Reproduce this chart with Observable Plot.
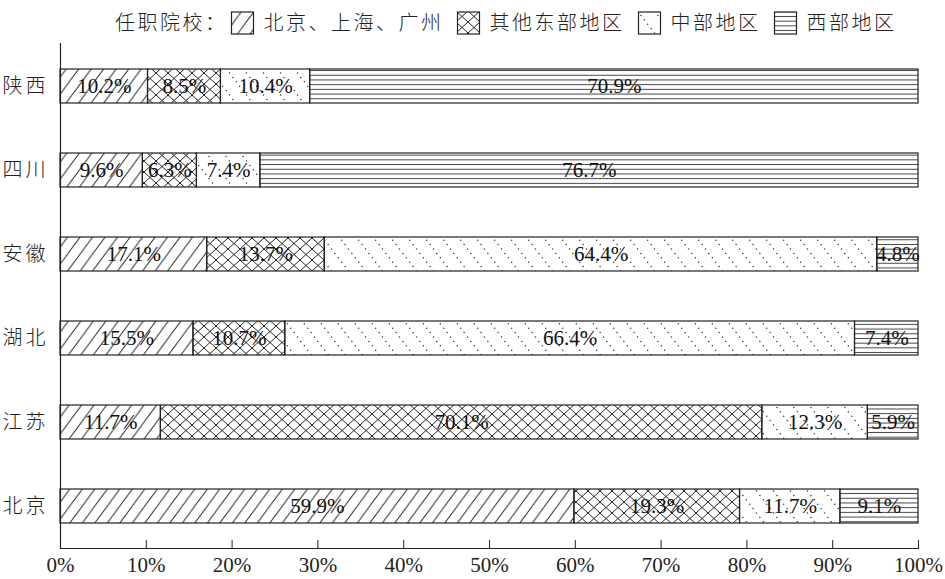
<!DOCTYPE html>
<html>
<head>
<meta charset="utf-8">
<script src="https://cdn.jsdelivr.net/npm/d3@7"></script>
<script src="https://cdn.jsdelivr.net/npm/@observablehq/plot@0.6"></script>
<style>
  body { margin: 0; background: #fff; }
  #legend { display: block; }
  #chart svg { display: block; }
</style>
</head>
<body>
<!-- Fill patterns shared by the bars and the legend swatches -->
<svg width="0" height="0" style="position:absolute">
  <defs>
    <pattern id="pat-hatch" patternUnits="userSpaceOnUse" width="12.5" height="17">
      <path d="M-3.125,4.25L3.125,-4.25M0,17L12.5,0M9.375,21.25L15.625,12.75" stroke="#222" stroke-width="1" fill="none"/>
    </pattern>
    <pattern id="pat-cross" patternUnits="userSpaceOnUse" width="12" height="11">
      <path d="M-1,-0.917L13,11.917M13,-0.917L-1,11.917" stroke="#222" stroke-width="1" fill="none"/>
    </pattern>
    <pattern id="pat-dots" patternUnits="userSpaceOnUse" width="17" height="22">
      <circle cx="1.7" cy="2.2" r="0.75" fill="#333"/>
      <circle cx="5.1" cy="6.6" r="0.75" fill="#333"/>
      <circle cx="8.5" cy="11" r="0.75" fill="#333"/>
      <circle cx="11.9" cy="15.4" r="0.75" fill="#333"/>
      <circle cx="15.3" cy="19.8" r="0.75" fill="#333"/>
    </pattern>
    <pattern id="pat-lines" patternUnits="userSpaceOnUse" width="10" height="4.7">
      <path d="M0,2.35H10" stroke="#444" stroke-width="1" fill="none"/>
    </pattern>
  </defs>
</svg>
<svg id="legend" width="945" height="40"></svg>
<div id="chart"></div>
<script>
// Provinces (bar rows, top to bottom)
const regions = ["陕西", "四川", "安徽", "湖北", "江苏", "北京"];
// Where graduates work (stack segments, left to right)
const series = ["北京、上海、广州", "其他东部地区", "中部地区", "西部地区"];
// Share (%) of each province's graduates in each destination, in the order of `regions`
const sharesBigCities = [10.2, 9.6, 17.1, 15.5, 11.7, 59.9];
const sharesOtherEast = [8.5, 6.3, 13.7, 10.7, 70.1, 19.3];
const sharesCentral   = [10.4, 7.4, 64.4, 66.4, 12.3, 11.7];
const sharesWest      = [70.9, 76.7, 4.8, 7.4, 5.9, 9.1];
// Axis ticks (%)
const xTicks = [0, 10, 20, 30, 40, 50, 60, 70, 80, 90, 100];
const legendTitle = "任职院校：";

const seriesValues = [sharesBigCities, sharesOtherEast, sharesCentral, sharesWest];
const patterns = ["url(#pat-hatch)", "url(#pat-cross)", "url(#pat-dots)", "url(#pat-lines)"];

const rows = series.flatMap((s, i) =>
  regions.map((r, j) => ({region: r, series: s, value: seriesValues[i][j]}))
);

const cjk = '"Noto Sans CJK SC", sans-serif';
const serif = '"Liberation Serif", "Times New Roman", serif';

// Legend row
const legend = d3.select("#legend");
let lx = 115;
const ly = 23;
const title = legend.append("text")
  .attr("x", lx).attr("y", ly).attr("dy", "0.35em")
  .style("font-family", cjk).style("font-size", "20px").style("font-weight", 300)
  .style("letter-spacing", "2.5px").attr("fill", "#222")
  .text(legendTitle);
lx += title.node().getComputedTextLength() + 4;
series.forEach((s, i) => {
  legend.append("rect")
    .attr("x", lx).attr("y", ly - 11).attr("width", 22).attr("height", 22)
    .attr("fill", patterns[i]).attr("stroke", "#222").attr("stroke-width", 1.2);
  lx += 32;
  const t = legend.append("text")
    .attr("x", lx).attr("y", ly).attr("dy", "0.35em")
    .style("font-family", cjk).style("font-size", "20px").style("font-weight", 300)
    .style("letter-spacing", "2.5px").attr("fill", "#222")
    .text(s);
  lx += t.node().getComputedTextLength() + 14;
});

const chart = Plot.plot({
  width: 945,
  height: 539,
  marginLeft: 60,
  marginRight: 27,
  marginTop: 3,
  marginBottom: 31,
  style: {fontFamily: serif, fontSize: "21px", color: "#222", background: "#fff", overflow: "visible"},
  x: {domain: [0, 100]},
  y: {domain: regions, paddingInner: 0.6, paddingOuter: 0.3},
  color: {type: "ordinal", domain: series, range: patterns},
  marks: [
    Plot.barX(rows, Plot.stackX({
      x: "value", y: "region", fill: "series",
      stroke: "#222", strokeWidth: 1.2
    })),
    Plot.text(rows, Plot.stackX({
      x: "value", y: "region",
      text: d => d.value.toFixed(1) + "%",
      fill: "#111", fontSize: 21, fontFamily: serif
    })),
    Plot.axisY({tickSize: 0, tickPadding: 12, fontSize: 20, fontFamily: cjk, fontWeight: 300, letterSpacing: 3, label: null}),
    Plot.axisX({ticks: xTicks, tickSize: -8, tickPadding: 17, tickFormat: d => d + "%", label: null, fontSize: 21}),
    Plot.ruleX([0], {stroke: "#222", strokeWidth: 1.2}),
    Plot.frame({anchor: "bottom", stroke: "#222", strokeWidth: 1.2})
  ]
});
// The category labels use a little letter spacing
d3.select(chart).selectAll("[aria-label='y-axis tick label'] text").style("letter-spacing", "3px");
document.getElementById("chart").append(chart);
</script>
</body>
</html>
